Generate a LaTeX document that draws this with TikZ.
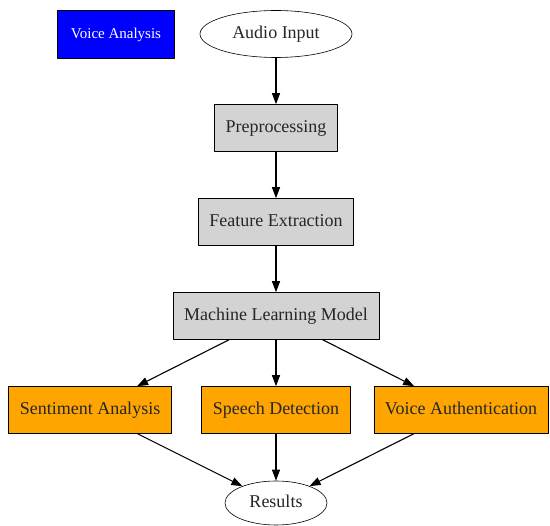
\documentclass[tikz,border=0pt]{standalone}
\usepackage{fontspec}
\setmainfont{Liberation Serif}
\usetikzlibrary{shapes.geometric,arrows.meta}
\definecolor{boxgray}{RGB}{211,211,211}
\definecolor{taskorange}{RGB}{255,165,0}
\begin{document}
\begin{tikzpicture}[x=1pt,y=-1pt,line join=round,>={Triangle[length=11pt,width=8pt]}]
	\tikzset{every node/.style={font=\rmfamily\fontsize{18}{20}\selectfont,text=black!85,text height=12.5pt,text depth=4pt},
		stage/.style={draw,semithick,fill=boxgray,rectangle,inner xsep=11pt,minimum height=47pt},
		task/.style={draw,semithick,fill=taskorange,rectangle,inner xsep=11pt,minimum height=47pt},
		io/.style={draw,semithick,fill=white,ellipse,inner sep=0pt},
		flow/.style={->,line width=1.1pt}}
	\useasboundingbox (0,0) rectangle (550,526);
	\node[draw,semithick,fill=blue,rectangle,minimum width=117pt,minimum height=48pt,text=white,font=\rmfamily\fontsize{15}{17}\selectfont] (title) at (116,34) {Voice Analysis};
	\node[io,minimum width=152pt,minimum height=47pt] (input) at (276,34) {Audio Input};
	\node[stage] (pre) at (276,128) {Preprocessing};
	\node[stage] (feat) at (276,222) {Feature Extraction};
	\node[stage] (model) at (276,316) {Machine Learning Model};
	\node[task] (sent) at (90,410) {Sentiment Analysis};
	\node[task] (speech) at (276,410) {Speech Detection};
	\node[task] (auth) at (461,410) {Voice Authentication};
	\node[io,minimum width=102pt,minimum height=44pt] (res) at (276,503) {Results};
	% pipeline
	\draw[flow] (input)--(pre);
	\draw[flow] (pre)--(feat);
	\draw[flow] (feat)--(model);
	\foreach \t in {sent,speech,auth}{
		\draw[flow] (model)--(\t);
		\draw[flow] (\t)--(res);
	}
\end{tikzpicture}
\end{document}
